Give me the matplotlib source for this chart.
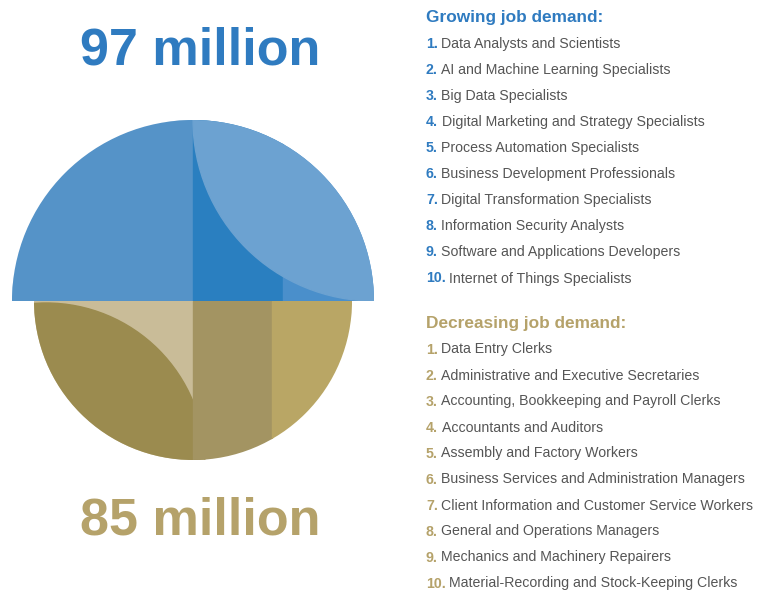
import matplotlib
matplotlib.use('Agg')
import matplotlib.pyplot as plt
from matplotlib.patches import Wedge, Rectangle, Circle

# headline figures (millions of jobs)
new_jobs = 97
lost_jobs = 85

growing_title = 'Growing job demand:'
growing_jobs = [
    'Data Analysts and Scientists',
    'AI and Machine Learning Specialists',
    'Big Data Specialists',
    'Digital Marketing and Strategy Specialists',
    'Process Automation Specialists',
    'Business Development Professionals',
    'Digital Transformation Specialists',
    'Information Security Analysts',
    'Software and Applications Developers',
    'Internet of Things Specialists',
]

decreasing_title = 'Decreasing job demand:'
decreasing_jobs = [
    'Data Entry Clerks',
    'Administrative and Executive Secretaries',
    'Accounting, Bookkeeping and Payroll Clerks',
    'Accountants and Auditors',
    'Assembly and Factory Workers',
    'Business Services and Administration Managers',
    'Client Information and Customer Service Workers',
    'General and Operations Managers',
    'Mechanics and Machinery Repairers',
    'Material-Recording and Stock-Keeping Clerks',
]

blue = '#2f7bc0'
gold = '#b5a26a'
grey = '#555555'

plt.rcParams['font.family'] = ['Liberation Sans', 'DejaVu Sans']

fig = plt.figure(figsize=(7.61, 5.92), dpi=100)
ax = fig.add_axes([0, 0, 1, 1])
ax.set_xlim(0, 761)
ax.set_ylim(592, 0)
ax.set_aspect('equal')
ax.axis('off')
renderer = fig.canvas.get_renderer()

# circle geometry in pixel space
cx, cy = 193, 301
r_top, r_bot = 181, 159

# lower half (lost jobs)
bot_clip = Wedge((cx, cy), r_bot, 0, 180, transform=ax.transData)
split_b = 272
bot_parts = [
    Rectangle((cx - r_bot, cy), r_bot, r_bot, color='#c9bc98'),
    Circle((cx - r_bot + 12, cy + r_bot + 2), r_bot, color='#9b8b4f'),
    Rectangle((cx, cy), split_b - cx, r_bot, color='#a39462'),
    Rectangle((split_b, cy), cx + r_bot - split_b, r_bot, color='#b9a665'),
]
for p in bot_parts:
    ax.add_patch(p)
    p.set_clip_path(bot_clip)

# upper half (new jobs)
top_clip = Wedge((cx, cy), r_top, 180, 360, transform=ax.transData)
split_t = 283
top_parts = [
    Rectangle((cx - r_top, cy - r_top), r_top, r_top, color='#5593c8'),
    Rectangle((cx, cy - r_top), split_t - cx, r_top, color='#2a7fc0'),
    Rectangle((split_t, cy - r_top), cx + r_top - split_t, r_top, color='#4a8fcb'),
    Circle((cx + r_top, cy - r_top), r_top, color='#6ca2d1'),
]
for p in top_parts:
    ax.add_patch(p)
    p.set_clip_path(top_clip)

ax.text(200, 51, '%d million' % new_jobs, color=blue, fontsize=37.5, fontweight='bold',
        ha='center', va='center')
ax.text(200, 521, '%d million' % lost_jobs, color=gold, fontsize=37.5, fontweight='bold',
        ha='center', va='center')


def job_list(y0, step, title, jobs, color):
    ax.text(426, y0 + 5, title, color=color, fontsize=12.4, fontweight='bold', va='baseline')
    for i, job in enumerate(jobs):
        y = y0 + 4.5 + step * (i + 1)
        num = ax.text(426, y, '%d.' % (i + 1), color=color, fontsize=10.2, fontweight='bold',
                      va='baseline')
        # one data unit is one pixel here, so the width can be used directly
        w = num.get_window_extent(renderer).width
        ax.text(426 + w + 3.5, y, job, color=grey, fontsize=10.2, va='baseline')


job_list(17, 26.1, growing_title, growing_jobs, blue)
job_list(323, 26.0, decreasing_title, decreasing_jobs, gold)

fig.savefig('out.png', dpi=100)
